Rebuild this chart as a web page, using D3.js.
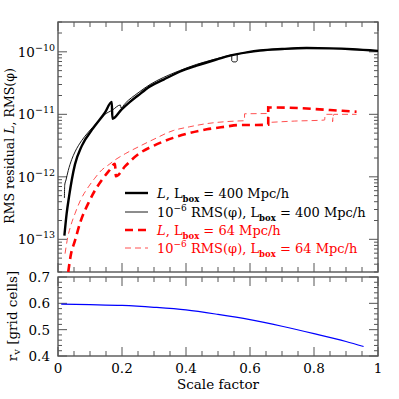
<!DOCTYPE html>
<html>
<head>
<meta charset="UTF-8">
<script src="https://d3js.org/d3.v7.min.js"></script>
<style>
  body { margin: 0; background: #fff; }
  text { font-family: "DejaVu Serif", serif; font-size: 13.5px; fill: #000; }
</style>
</head>
<body>
<svg width="399" height="399"></svg>
<script>
// scale factor a, value
const l400A = [0.020, 0.027, 0.035, 0.043, 0.053, 0.074, 0.11, 0.147, 0.168, 0.170, 0.199, 0.225, 0.25, 0.2875, 0.33, 0.38, 0.433, 0.49, 0.5375, 0.59, 0.631, 0.70, 0.777, 0.85, 0.92, 1.0];
const l400V = [1.15e-13, 2.57e-13, 5.0e-13, 8.9e-13, 1.58e-12, 3.1e-12, 6.0e-12, 1.07e-11, 1.58e-11, 8.5e-12, 1.2e-11, 1.58e-11, 2.0e-11, 2.8e-11, 3.6e-11, 4.8e-11, 6.0e-11, 7.4e-11, 8.7e-11, 9.8e-11, 1.05e-10, 1.11e-10, 1.15e-10, 1.135e-10, 1.10e-10, 1.035e-10];

const rms400A = [0.020, 0.021, 0.025, 0.032, 0.043, 0.053, 0.074, 0.095, 0.12, 0.147, 0.17, 0.195, 0.197, 0.21, 0.25, 0.2875, 0.33, 0.38, 0.433, 0.49, 0.543, 0.543, 0.547, 0.556, 0.56, 0.56, 0.59, 0.631, 0.70, 0.777, 0.85, 0.92, 1.0];
const rms400V = [4.6e-13, 7.4e-13, 8.9e-13, 1.26e-12, 1.9e-12, 2.5e-12, 3.8e-12, 5.2e-12, 7.2e-12, 1.0e-11, 1.17e-11, 1.41e-11, 1.26e-11, 1.5e-11, 2.2e-11, 3.0e-11, 3.9e-11, 5.0e-11, 6.3e-11, 7.6e-11, 9.0e-11, 7.2e-11, 6.9e-11, 6.9e-11, 7.2e-11, 9.3e-11, 9.8e-11, 1.05e-10, 1.11e-10, 1.15e-10, 1.135e-10, 1.10e-10, 1.035e-10];

const l64A = [0.032, 0.04, 0.053, 0.07, 0.095, 0.115, 0.137, 0.16, 0.178, 0.181, 0.21, 0.256, 0.30, 0.36, 0.41, 0.465, 0.52, 0.569, 0.62, 0.657, 0.657, 0.75, 0.85, 0.933];
const l64V = [3.0e-14, 5.6e-14, 9.5e-14, 1.9e-13, 3.8e-13, 6.0e-13, 8.9e-13, 1.26e-12, 1.62e-12, 1.02e-12, 1.48e-12, 2.4e-12, 3.16e-12, 4.2e-12, 5.0e-12, 5.75e-12, 6.3e-12, 6.75e-12, 6.75e-12, 6.85e-12, 1.29e-11, 1.26e-11, 1.17e-11, 1.10e-11];

const rms64A = [0.022, 0.03, 0.04, 0.053, 0.07, 0.095, 0.115, 0.137, 0.16, 0.178, 0.21, 0.256, 0.30, 0.36, 0.41, 0.465, 0.52, 0.583, 0.583, 0.656, 0.656, 0.74, 0.833, 0.835, 0.86, 0.858, 0.862, 0.933];
const rms64V = [5.9e-14, 1.05e-13, 1.66e-13, 2.57e-13, 4.2e-13, 6.9e-13, 9.5e-13, 1.29e-12, 1.58e-12, 1.86e-12, 2.34e-12, 3.1e-12, 4.0e-12, 5.5e-12, 6.3e-12, 7.1e-12, 7.6e-12, 7.9e-12, 1.02e-11, 1.03e-11, 7.4e-12, 7.8e-12, 8.1e-12, 1.0e-11, 1.0e-11, 7.6e-12, 1.0e-11, 1.0e-11];

// bottom panel: r_v
const rvA = [0.01, 0.1, 0.2, 0.3, 0.4, 0.5, 0.6, 0.7, 0.8, 0.9, 0.955];
const rvV = [0.597, 0.595, 0.592, 0.585, 0.575, 0.558, 0.538, 0.513, 0.485, 0.455, 0.436];

const xTicks = [0, 0.2, 0.4, 0.6, 0.8, 1];
const xTickLabels = ["0", "0.2", "0.4", "0.6", "0.8", "1"];
const decades = [-13, -12, -11, -10];
const rvTicks = [0.4, 0.5, 0.6, 0.7];

const svg = d3.select("svg");
const frameColor = "#555";

const x = d3.scaleLinear().domain([0, 1]).range([58, 378]);
const yTop = d3.scaleLog().domain([3e-14, 3e-10]).range([272, 22]);
const yBot = d3.scaleLinear().domain([0.4, 0.7]).range([356, 277]);

function frame(y0, y1) {
  svg.append("rect")
    .attr("x", x(0)).attr("y", y0)
    .attr("width", x(1) - x(0)).attr("height", y1 - y0)
    .attr("fill", "none").attr("stroke", frameColor).attr("stroke-width", 1.4);
}

function xTickMarks(y0, y1) {
  const g = svg.append("g").attr("stroke", frameColor).attr("stroke-width", 1);
  d3.range(0, 21).forEach(i => {
    const v = i / 20;
    const len = (i % 4 === 0) ? 9 : 5;
    const px = x(v);
    g.append("line").attr("x1", px).attr("x2", px).attr("y1", y1).attr("y2", y1 - len);
    g.append("line").attr("x1", px).attr("x2", px).attr("y1", y0).attr("y2", y0 + len);
  });
}

// ---------- top panel ----------
frame(22, 272);
xTickMarks(22, 272);

const gy = svg.append("g").attr("stroke", frameColor).attr("stroke-width", 1);
for (let e = -14; e <= -10; e++) {
  for (let m = 1; m <= 9; m++) {
    const v = m * Math.pow(10, e);
    if (v < 3e-14 || v > 3e-10) continue;
    const len = m === 1 ? 9 : 4;
    const py = yTop(v);
    gy.append("line").attr("x1", x(0)).attr("x2", x(0) + len).attr("y1", py).attr("y2", py);
    gy.append("line").attr("x1", x(1)).attr("x2", x(1) - len).attr("y1", py).attr("y2", py);
  }
}

decades.forEach(e => {
  const t = svg.append("text")
    .attr("x", 55).attr("y", yTop(Math.pow(10, e)) + 5)
    .attr("text-anchor", "end");
  t.append("tspan").text("10");
  t.append("tspan").attr("dy", -6).attr("font-size", 9.5).text("\u2212" + (-e));
});

// smooth within runs of increasing a, straight jumps between runs
const smooth = d3.line().curve(d3.curveMonotoneX).x(d => x(d[0])).y(d => yTop(d[1]));
function pathWithJumps(pts) {
  const runs = [[pts[0]]];
  for (let i = 1; i < pts.length; i++) {
    if (pts[i][0] > pts[i - 1][0]) runs[runs.length - 1].push(pts[i]);
    else runs.push([pts[i]]);
  }
  return runs.map((r, i) => {
    let d = r.length > 1 ? smooth(r) : "M" + x(r[0][0]) + "," + yTop(r[0][1]);
    return i === 0 ? d : "L" + d.slice(1);
  }).join("");
}
const zip = (a, v) => a.map((d, i) => [d, v[i]]);

svg.append("path").attr("d", pathWithJumps(zip(rms64A, rms64V)))
  .attr("fill", "none").attr("stroke", "#ff5050").attr("stroke-width", 1)
  .attr("stroke-dasharray", "6,4");
svg.append("path").attr("d", pathWithJumps(zip(l64A, l64V)))
  .attr("fill", "none").attr("stroke", "#ff0000").attr("stroke-width", 2.6)
  .attr("stroke-dasharray", "8,5");
svg.append("path").attr("d", pathWithJumps(zip(rms400A, rms400V)))
  .attr("fill", "none").attr("stroke", "#000").attr("stroke-width", 0.9);
svg.append("path").attr("d", pathWithJumps(zip(l400A, l400V)))
  .attr("fill", "none").attr("stroke", "#000").attr("stroke-width", 2.4);

// legend
const legend = [
  { y: 193, color: "#000", w: 2.4, dash: null, rms: false, box: "400" },
  { y: 212, color: "#000", w: 0.9, dash: null, rms: true, box: "400" },
  { y: 230, color: "#ff0000", w: 2.6, dash: "8,5", rms: false, box: "64" },
  { y: 248, color: "#ff5050", w: 1, dash: "6,4", rms: true, box: "64" }
];
legend.forEach(d => {
  svg.append("line").attr("x1", 125).attr("x2", 148).attr("y1", d.y).attr("y2", d.y)
    .attr("stroke", d.color).attr("stroke-width", d.w)
    .attr("stroke-dasharray", d.dash);
  const fill = d.color === "#000" ? "#000" : "#ff0000";
  const t = svg.append("text").attr("x", 157).attr("y", d.y + 5)
    .style("fill", fill).style("font-size", "13px");
  if (d.rms) {
    t.append("tspan").text("10");
    t.append("tspan").attr("dy", -6).attr("font-size", 9).text("\u22126");
    t.append("tspan").attr("dy", 6).text(" RMS(\u03c6), L");
  } else {
    t.append("tspan").attr("font-style", "italic").text("L");
    t.append("tspan").text(", L");
  }
  t.append("tspan").attr("dy", 4).attr("font-size", 8.5).attr("font-weight", "bold").text("box");
  t.append("tspan").attr("dy", -4).text(" = " + d.box + " Mpc/h");
});

// y label top
const yl = svg.append("text")
  .attr("transform", "translate(14,146) rotate(-90)")
  .attr("text-anchor", "middle").style("font-size", "12.5px");
yl.append("tspan").text("RMS residual ");
yl.append("tspan").attr("font-style", "italic").text("L");
yl.append("tspan").text(", RMS(\u03c6)");

// ---------- bottom panel ----------
frame(277, 356);
xTickMarks(277, 356);

const gb = svg.append("g").attr("stroke", frameColor).attr("stroke-width", 1);
d3.range(0, 16).forEach(i => {
  const v = 0.4 + i * 0.02;
  const len = (i % 5 === 0) ? 9 : 4;
  const py = yBot(v);
  gb.append("line").attr("x1", x(0)).attr("x2", x(0) + len).attr("y1", py).attr("y2", py);
  gb.append("line").attr("x1", x(1)).attr("x2", x(1) - len).attr("y1", py).attr("y2", py);
});

rvTicks.forEach(v => {
  svg.append("text").attr("x", 50).attr("y", yBot(v) + 5)
    .attr("text-anchor", "end").text(v.toFixed(1));
});

svg.append("path").datum(zip(rvA, rvV))
  .attr("d", d3.line().curve(d3.curveMonotoneX).x(d => x(d[0])).y(d => yBot(d[1])))
  .attr("fill", "none").attr("stroke", "#0000ff").attr("stroke-width", 1.2);

xTicks.forEach((v, i) => {
  svg.append("text").attr("x", x(v)).attr("y", 373)
    .attr("text-anchor", "middle").text(xTickLabels[i]);
});

svg.append("text").attr("x", 218).attr("y", 389)
  .attr("text-anchor", "middle").text("Scale factor");

const bl = svg.append("text")
  .attr("transform", "translate(17,316) rotate(-90)")
  .attr("text-anchor", "middle");
bl.append("tspan").text("r");
bl.append("tspan").attr("dy", 3).attr("font-size", 10).text("v");
bl.append("tspan").attr("dy", -3).text(" [grid cells]");
</script>
</body>
</html>
